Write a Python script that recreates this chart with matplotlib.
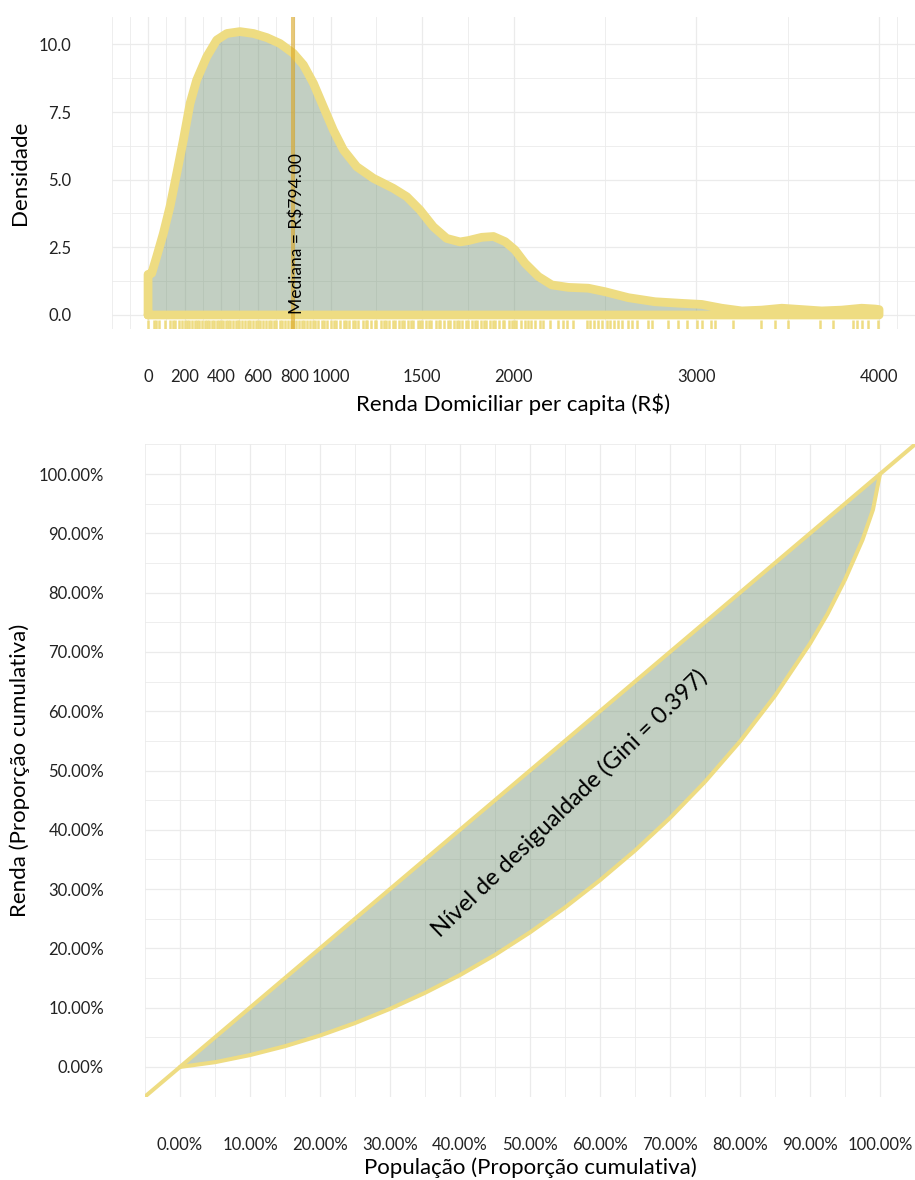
import matplotlib
matplotlib.use('Agg')
import matplotlib.pyplot as plt
import matplotlib.transforms as mtransforms

plt.rcParams['font.family'] = ['Lato', 'DejaVu Sans']

# ---------------- data ----------------
# density curve of household income per capita (R$)
renda_x = [0, 0, 20, 47, 84, 120, 157, 193, 230, 266, 321, 376, 431, 503, 577, 650,
           722, 795, 850, 905, 959, 1014, 1069, 1142, 1233, 1342, 1416, 1488, 1561,
           1634, 1707, 1753, 1826, 1890, 1954, 2008, 2063, 2136, 2209, 2300, 2409,
           2501, 2628, 2774, 2920, 3030, 3139, 3249, 3358, 3468, 3577, 3686, 3796,
           3905, 3978, 4000, 4000]
densidade = [0, 1.50, 1.54, 2.15, 3.02, 4.00, 5.23, 6.46, 7.82, 8.68, 9.54, 10.16,
             10.40, 10.47, 10.40, 10.25, 10.03, 9.67, 9.24, 8.56, 7.70, 6.83, 6.10,
             5.48, 5.05, 4.68, 4.37, 3.88, 3.26, 2.83, 2.70, 2.75, 2.87, 2.90, 2.71,
             2.40, 1.91, 1.42, 1.11, 1.02, 0.99, 0.86, 0.64, 0.49, 0.43, 0.39, 0.25,
             0.15, 0.18, 0.25, 0.20, 0.15, 0.18, 0.25, 0.22, 0.20, 0]
rug_renda = [0, 30, 45, 60, 95, 120, 135, 150, 170, 185, 200, 215, 225, 240, 255, 270,
             280, 295, 310, 320, 335, 350, 360, 375, 390, 400, 410, 425, 440, 450, 465,
             480, 490, 500, 515, 530, 545, 560, 575, 590, 600, 615, 630, 645, 660, 675,
             690, 700, 720, 735, 750, 765, 780, 794, 810, 825, 840, 855, 870, 885, 900,
             915, 930, 950, 965, 980, 1000, 1015, 1030, 1050, 1070, 1085, 1100, 1120,
             1135, 1150, 1175, 1190, 1200, 1220, 1240, 1250, 1275, 1290, 1300, 1320,
             1340, 1350, 1375, 1390, 1400, 1420, 1440, 1450, 1475, 1490, 1500, 1520,
             1540, 1550, 1575, 1590, 1600, 1620, 1640, 1650, 1675, 1690, 1700, 1720,
             1740, 1750, 1770, 1790, 1800, 1820, 1840, 1850, 1870, 1890, 1900, 1920,
             1940, 1950, 1975, 1990, 2000, 2015, 2040, 2060, 2080, 2096, 2118, 2145,
             2160, 2200, 2245, 2270, 2291, 2327, 2400, 2419, 2442, 2464, 2482, 2510,
             2528, 2552, 2574, 2592, 2628, 2647, 2674, 2738, 2756, 2847, 2902, 2948,
             3002, 3033, 3081, 3103, 3199, 3353, 3431, 3500, 3677, 3750, 3860, 3881,
             3905, 3941, 3996]
mediana = 794.00
x1_ticks = [0, 200, 400, 600, 800, 1000, 1500, 2000, 3000, 4000]
x1_minor = [-200, -100, 100, 300, 500, 700, 900, 1250, 1750, 2500, 3500, 4100]
y1_ticks = [0, 2.5, 5, 7.5, 10]
y1_labels = ['0.0', '2.5', '5.0', '7.5', '10.0']
y1_minor = [1.25, 3.75, 6.25, 8.75]

# Lorenz curve
populacao = [0, 0.05, 0.1, 0.15, 0.2, 0.25, 0.3, 0.35, 0.4, 0.45, 0.5, 0.55, 0.6,
             0.65, 0.7, 0.75, 0.8, 0.85, 0.9, 0.925, 0.95, 0.975, 0.99, 1.0]
renda_acum = [0, 0.008, 0.020, 0.035, 0.053, 0.074, 0.098, 0.125, 0.155, 0.189,
              0.227, 0.269, 0.315, 0.365, 0.420, 0.481, 0.549, 0.626, 0.714, 0.764,
              0.822, 0.889, 0.940, 1.0]
gini = 0.397
pct_ticks = [0, 0.1, 0.2, 0.3, 0.4, 0.5, 0.6, 0.7, 0.8, 0.9, 1.0]
pct_labels = ['0.00%', '10.00%', '20.00%', '30.00%', '40.00%', '50.00%', '60.00%',
              '70.00%', '80.00%', '90.00%', '100.00%']
pct_minor = [-0.05, 0.05, 0.15, 0.25, 0.35, 0.45, 0.55, 0.65, 0.75, 0.85, 0.95, 1.05]

# ---------------- style ----------------
YELLOW = '#EEDC82'
FILL = '#789678'
FILL_ALPHA = 0.45
GRID = '#EBEBEB'
TICKC = '#222222'

W, H = 915, 1180
fig = plt.figure(figsize=(W / 100, H / 100), dpi=100)


def ax_px(l, t, r, b):
    return fig.add_axes([l / W, 1 - b / H, (r - l) / W, (b - t) / H])


def style(ax, xt, xl, xm, yt, yl, ym, xpad, ypad):
    ax.set_xticks(xt)
    ax.set_xticklabels(xl)
    ax.set_xticks(xm, minor=True)
    ax.set_yticks(yt)
    ax.set_yticklabels(yl)
    ax.set_yticks(ym, minor=True)
    ax.grid(which='major', color=GRID, lw=0.9)
    ax.grid(which='minor', color=GRID, lw=0.6)
    ax.set_axisbelow(True)
    for s in ax.spines.values():
        s.set_visible(False)
    ax.tick_params(which='both', length=0, labelsize=12, labelcolor=TICKC)
    ax.tick_params(axis='x', pad=xpad)
    ax.tick_params(axis='y', pad=ypad)


# ---------------- top panel ----------------
ax1 = ax_px(111.5, 16.6, 915.6, 329.2)
ax1.set_xlim(-200, 4200)
ax1.set_ylim(-0.525, 11.025)
style(ax1, x1_ticks, [str(v) for v in x1_ticks], x1_minor,
      y1_ticks, y1_labels, y1_minor, 29, 29)

ax1.fill(renda_x, densidade, color=FILL, alpha=FILL_ALPHA, lw=0, zorder=2)
ax1.plot(renda_x + [renda_x[0]], densidade + [densidade[0]], color=YELLOW, lw=6.3,
         solid_joinstyle='round', solid_capstyle='round', zorder=3)
trans = mtransforms.blended_transform_factory(ax1.transData, ax1.transAxes)
ax1.vlines(rug_renda, 0, 0.03, transform=trans, color=YELLOW, lw=1.8, zorder=3)
ax1.axvline(mediana, color='#DAA520', alpha=0.6, lw=2.9, zorder=4)
ax1.text(815, 0.02, 'Mediana = R\\$794.00', rotation=90, ha='center', va='bottom',
         fontsize=12.5, color='black', zorder=5)

fig.text(20 / W, 1 - 173 / H, 'Densidade', rotation=90, ha='center', va='center',
         fontsize=16, color='black')
fig.text(513 / W, 1 - 404 / H, 'Renda Domiciliar per capita (R\\$)', ha='center',
         va='center', fontsize=16, color='black')

# ---------------- bottom panel ----------------
ax2 = ax_px(145, 444.4, 915, 1096.6)
ax2.set_xlim(-0.05, 1.05)
ax2.set_ylim(-0.05, 1.05)
style(ax2, pct_ticks, pct_labels, pct_minor, pct_ticks, pct_labels, pct_minor, 29, 29.5)

ax2.fill_between(populacao, populacao, renda_acum, color=FILL, alpha=FILL_ALPHA,
                 lw=0, zorder=2)
ax2.axline((0, 0), (1, 1), color=YELLOW, lw=2.9, zorder=3)
ax2.plot(populacao, renda_acum, color=YELLOW, lw=2.9, solid_capstyle='round',
         solid_joinstyle='round', zorder=3)
ax2.text(0.556, 0.445, 'Nível de desigualdade (Gini = %.3f)' % gini, rotation=44,
         rotation_mode='anchor', ha='center', va='center', fontsize=17,
         color='black', zorder=5)

fig.text(20 / W, 1 - 770 / H, 'Renda (Proporção cumulativa)', rotation=90,
         ha='center', va='center', fontsize=16, color='black')
fig.text(530 / W, 1 - 1168 / H, 'População (Proporção cumulativa)', ha='center',
         va='center', fontsize=16, color='black')

fig.savefig('out.png', dpi=100, facecolor='white')
